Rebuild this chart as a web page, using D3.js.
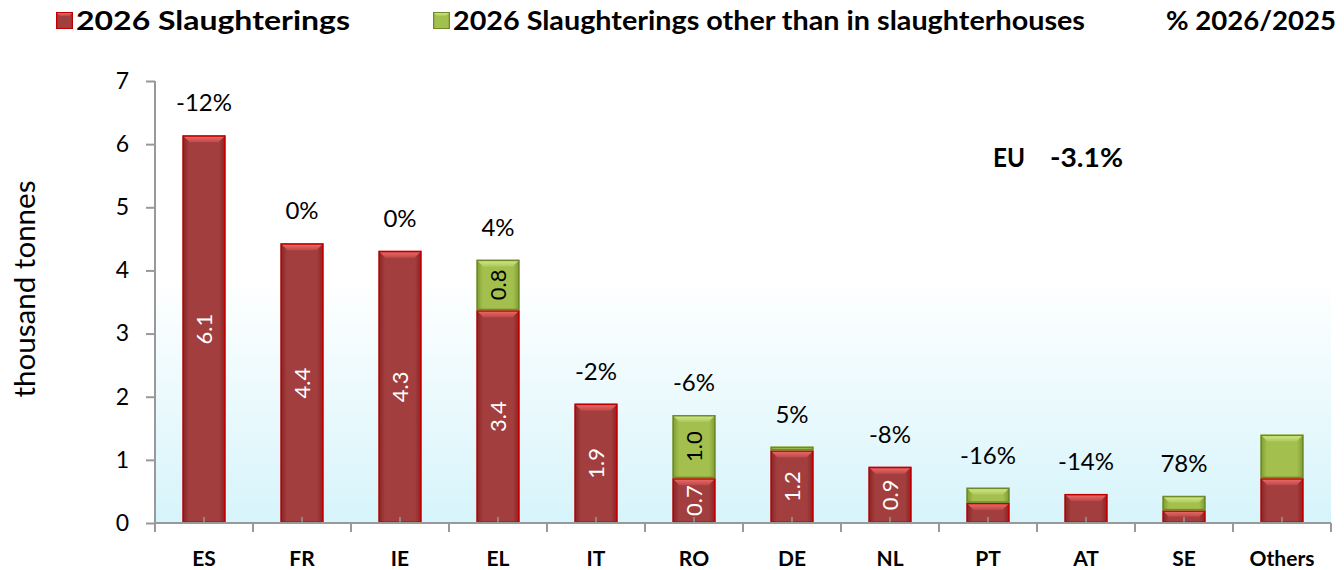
<!DOCTYPE html>
<style>
body { margin: 0; background: #fff; }
svg { font-family: Lato, "Open Sans", sans-serif; }
</style>
<script src="https://d3js.org/d3.v7.min.js"></script>
<svg width="1344" height="570"></svg>
<script>
var countries = ["ES", "FR", "IE", "EL", "IT", "RO", "DE", "NL", "PT", "AT", "SE", "Others"];
var slaughterhouses = [6.14, 4.43, 4.31, 3.37, 1.89, 0.71, 1.15, 0.89, 0.32, 0.46, 0.2, 0.71];
var otherThan = [0, 0, 0, 0.8, 0, 1.0, 0.06, 0, 0.24, 0, 0.23, 0.69];
var redLabels = ["6.1", "4.4", "4.3", "3.4", "1.9", "0.7", "1.2", "0.9", "", "", "", ""];
var greenLabels = ["", "", "", "0.8", "", "1.0", "", "", "", "", "", ""];
var changes = ["-12%", "0%", "0%", "4%", "-2%", "-6%", "5%", "-8%", "-16%", "-14%", "78%", ""];
var yTicks = [0, 1, 2, 3, 4, 5, 6, 7];

var svg = d3.select("svg");
var plotL = 155, plotR = 1331, plotT = 81, plotB = 523;

var x = d3.scaleBand().domain(countries).range([plotL, plotR]);
var y = d3.scaleLinear().domain([0, 7]).range([plotB, plotT]);

var defs = svg.append("defs");
var bg = defs.append("linearGradient").attr("id", "bg").attr("x1", 0).attr("x2", 0).attr("y1", 0).attr("y2", 1);
bg.append("stop").attr("offset", "0.45").attr("stop-color", "#ffffff");
bg.append("stop").attr("offset", "1").attr("stop-color", "#d6f4fb");

function faceGrad(id, edge, mid) {
  var g = defs.append("linearGradient").attr("id", id).attr("x1", 0).attr("x2", 1).attr("y1", 0).attr("y2", 0);
  g.append("stop").attr("offset", 0).attr("stop-color", edge);
  g.append("stop").attr("offset", 0.15).attr("stop-color", mid);
  g.append("stop").attr("offset", 0.85).attr("stop-color", mid);
  g.append("stop").attr("offset", 1).attr("stop-color", edge);
}
faceGrad("redFace", "#8a2222", "#a23e3e");
faceGrad("greenFace", "#7c9a30", "#a3c04e");
function topGrad(id, a, b) {
  var g = defs.append("linearGradient").attr("id", id).attr("x1", 0).attr("x2", 0).attr("y1", 0).attr("y2", 1);
  g.append("stop").attr("offset", 0).attr("stop-color", a);
  g.append("stop").attr("offset", 1).attr("stop-color", b);
}
topGrad("redTop", "#f07070", "#c04848");
topGrad("greenTop", "#d8ef90", "#aac858");

svg.append("rect")
    .attr("x", plotL).attr("y", plotT)
    .attr("width", plotR - plotL).attr("height", plotB - plotT)
    .attr("fill", "url(#bg)");

// stacked series
var rows = countries.map(function(c, i) {
  return { country: c, red: slaughterhouses[i], green: otherThan[i] };
});
var stack = d3.stack().keys(["red", "green"])(rows);
var styles = {
  red: { face: "url(#redFace)", top: "url(#redTop)", stroke: "#c00000" },
  green: { face: "url(#greenFace)", top: "url(#greenTop)", stroke: "#6f8a2a" }
};
var bw = 43;

stack.forEach(function(layer) {
  var st = styles[layer.key];
  layer.forEach(function(d) {
    if (d[1] - d[0] <= 0) return;
    var x0 = x(d.data.country) + (x.bandwidth() - bw) / 2, x1 = x0 + bw;
    var y0 = y(d[1]), y1 = y(d[0]);
    var h = y1 - y0;
    var b = Math.min(7, h / 2);
    svg.append("rect")
        .attr("x", x0).attr("y", y0).attr("width", bw).attr("height", h)
        .attr("fill", st.face);
    svg.append("polygon")
        .attr("points", [[x0, y0], [x1, y0], [x1 - b, y0 + b], [x0 + b, y0 + b]].join(" "))
        .attr("fill", st.top);
    svg.append("rect")
        .attr("x", x0 + 0.75).attr("y", y0 + 0.75).attr("width", bw - 1.5).attr("height", h - 1.5)
        .attr("fill", "none").attr("stroke", st.stroke).attr("stroke-width", 1.5);
  });
});

// axes
var yAxis = svg.append("g").attr("transform", "translate(" + plotL + ",0)")
    .call(d3.axisLeft(y).tickValues(yTicks).tickFormat(d3.format("d")).tickSize(9).tickPadding(17));
yAxis.select(".domain").attr("stroke", "#999").attr("stroke-width", 2).attr("d", "M0," + plotB + "V" + plotT);
yAxis.selectAll(".tick line").attr("stroke", "#999").attr("stroke-width", 2);
yAxis.selectAll("text").attr("font-size", 23).attr("fill", "#000").attr("font-family", "Lato");

var xg = svg.append("g");
xg.append("line").attr("x1", plotL).attr("x2", plotR).attr("y1", plotB).attr("y2", plotB)
    .attr("stroke", "#999").attr("stroke-width", 2);
var bounds = countries.map(function(c) { return x(c); }).concat([plotR]);
xg.selectAll(".bt").data(bounds).enter().append("line")
    .attr("x1", function(d) { return d; }).attr("x2", function(d) { return d; })
    .attr("y1", plotB).attr("y2", plotB + 9)
    .attr("stroke", "#999").attr("stroke-width", 2);
xg.selectAll(".ct").data(countries).enter().append("line")
    .attr("x1", function(d) { return x(d) + x.bandwidth() / 2; })
    .attr("x2", function(d) { return x(d) + x.bandwidth() / 2; })
    .attr("y1", plotB).attr("y2", plotB - 6)
    .attr("stroke", "#999").attr("stroke-width", 1.5);
xg.selectAll(".cl").data(countries).enter().append("text")
    .attr("x", function(d) { return x(d) + x.bandwidth() / 2; })
    .attr("y", 566)
    .attr("text-anchor", "middle")
    .attr("font-size", 21).attr("font-weight", "bold")
    .text(function(d) { return d; });

// value labels inside bars
function insideLabels(vals, labels, base, color) {
  countries.forEach(function(c, i) {
    if (!labels[i]) return;
    var cy = y(base[i] + vals[i] / 2);
    var cx = x(c) + x.bandwidth() / 2;
    svg.append("text")
        .attr("transform", "translate(" + cx + "," + cy + ") rotate(-90)")
        .attr("text-anchor", "middle").attr("dy", "0.35em")
        .attr("font-size", 22).attr("fill", color)
        .text(labels[i]);
  });
}
insideLabels(slaughterhouses, redLabels, countries.map(function() { return 0; }), "#fff");
insideLabels(otherThan, greenLabels, slaughterhouses, "#000");

// percentage change labels
svg.selectAll(".pct").data(countries).enter().append("text")
    .attr("x", function(d) { return x(d) + x.bandwidth() / 2; })
    .attr("y", function(d, i) { return y(slaughterhouses[i] + otherThan[i]) - 24; })
    .attr("text-anchor", "middle").attr("font-size", 24)
    .text(function(d, i) { return changes[i]; });

svg.append("text").attr("x", 993).attr("y", 167).attr("font-size", 26).attr("font-weight", "bold")
    .attr("textLength", 32).attr("lengthAdjust", "spacingAndGlyphs").text("EU");
svg.append("text").attr("x", 1050).attr("y", 167).attr("font-size", 26).attr("font-weight", "bold")
    .attr("textLength", 73).attr("lengthAdjust", "spacingAndGlyphs").text("-3.1%");

// y title
svg.append("text")
    .attr("transform", "translate(35,289) rotate(-90)")
    .attr("text-anchor", "middle").attr("font-size", 28)
    .attr("textLength", 217).attr("lengthAdjust", "spacingAndGlyphs")
    .text("thousand tonnes");

// legend
function legendBox(x0, face, topFill, stroke) {
  svg.append("rect").attr("x", x0).attr("y", 12).attr("width", 17).attr("height", 17).attr("fill", face);
  svg.append("polygon").attr("points", [[x0, 12], [x0 + 17, 12], [x0 + 13, 16], [x0 + 4, 16]].join(" ")).attr("fill", topFill);
  svg.append("rect").attr("x", x0 + 0.5).attr("y", 12.5).attr("width", 16).attr("height", 16)
      .attr("fill", "none").attr("stroke", stroke);
}
legendBox(56, "url(#redFace)", "url(#redTop)", "#c00000");
legendBox(433, "url(#greenFace)", "url(#greenTop)", "#6f8a2a");
var lg = [["2026 Slaughterings", 76, 274], ["2026 Slaughterings other than in slaughterhouses", 453, 632], ["% 2026/2025", 1166, 170]];
lg.forEach(function(l) {
  svg.append("text").attr("x", l[1]).attr("y", 30).attr("font-size", 26).attr("font-weight", "bold")
      .attr("textLength", l[2]).attr("lengthAdjust", "spacingAndGlyphs")
      .text(l[0]);
});
</script>
